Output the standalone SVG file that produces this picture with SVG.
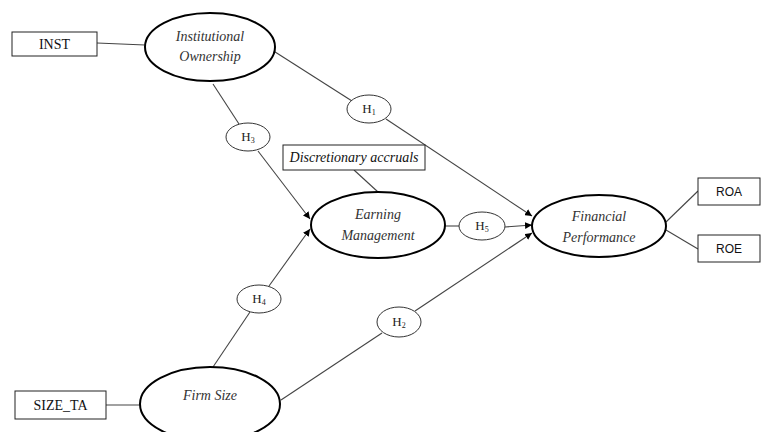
<svg xmlns="http://www.w3.org/2000/svg" width="762" height="432" viewBox="0 0 762 432">
<style>
.big{fill:#fff;stroke:#000;stroke-width:2}
.h{fill:#fff;stroke:#333;stroke-width:1}
.box{fill:#fff;stroke:#222;stroke-width:1}
.ln{stroke:#444;stroke-width:1.1;fill:none}
.lt{font-family:"Liberation Serif",serif;font-style:italic;font-size:14px;fill:#333;text-anchor:middle}
.st{font-family:"Liberation Serif","Times New Roman",serif;font-size:14px;fill:#111;text-anchor:middle}
.ss{font-family:"Liberation Sans",sans-serif;font-size:12px;fill:#111;text-anchor:middle}
.ht{font-family:"Liberation Serif",serif;font-size:13px;fill:#222;text-anchor:middle}
.sub{font-size:8px}
</style>
<defs>
<marker id="arr" viewBox="0 0 10 10" refX="10" refY="5" markerWidth="7" markerHeight="7" orient="auto" markerUnits="userSpaceOnUse">
<path d="M0,0 L10,5 L0,10 z" fill="#000"/>
</marker>
</defs>
<g id="connectors">
<line class="ln" x1="97" y1="43" x2="145" y2="45"/>
<line class="ln" x1="106" y1="405" x2="140" y2="405"/>
<line class="ln" x1="272" y1="50" x2="352" y2="101"/>
<line class="ln" x1="386" y1="119" x2="532" y2="216" marker-end="url(#arr)"/>
<line class="ln" x1="213" y1="84" x2="239" y2="124"/>
<line class="ln" x1="258" y1="151" x2="310" y2="219" marker-end="url(#arr)"/>
<line class="ln" x1="213" y1="367" x2="250" y2="312"/>
<line class="ln" x1="269" y1="286" x2="310" y2="229" marker-end="url(#arr)"/>
<line class="ln" x1="281" y1="400" x2="382" y2="333"/>
<line class="ln" x1="415" y1="311" x2="532" y2="233" marker-end="url(#arr)"/>
<line class="ln" x1="445" y1="226" x2="459" y2="226"/>
<line class="ln" x1="505" y1="227" x2="532" y2="225" marker-end="url(#arr)"/>
<line class="ln" x1="354" y1="170" x2="378" y2="192"/>
<line class="ln" x1="666" y1="222" x2="698" y2="191"/>
<line class="ln" x1="666" y1="230" x2="698" y2="249"/>
</g>
<g id="inst">
<rect class="box" x="12" y="32" width="85" height="24"/>
<text class="st" x="54.5" y="49">INST</text>
</g>
<g id="institutional-ownership">
<ellipse class="big" cx="210" cy="47" rx="65" ry="34"/>
<text class="lt" x="210" y="41">Institutional</text>
<text class="lt" x="210" y="61">Ownership</text>
</g>
<g id="h1">
<ellipse class="h" cx="369" cy="109" rx="22" ry="14"/>
<text class="ht" x="369" y="113">H<tspan class="sub" dy="2">1</tspan></text>
</g>
<g id="h3">
<ellipse class="h" cx="248" cy="137" rx="22" ry="14"/>
<text class="ht" x="248" y="141">H<tspan class="sub" dy="2">3</tspan></text>
</g>
<g id="discretionary-accruals">
<rect class="box" x="283" y="145" width="142" height="25"/>
<text class="lt" x="354" y="162" style="fill:#111">Discretionary accruals</text>
</g>
<g id="earning-management">
<ellipse class="big" cx="378" cy="225" rx="67" ry="33"/>
<text class="lt" x="378" y="219">Earning</text>
<text class="lt" x="378" y="240">Management</text>
</g>
<g id="h5">
<ellipse class="h" cx="482" cy="226" rx="23" ry="14"/>
<text class="ht" x="482" y="230">H<tspan class="sub" dy="2">5</tspan></text>
</g>
<g id="financial-performance">
<ellipse class="big" cx="599" cy="226" rx="67" ry="31"/>
<text class="lt" x="599" y="221">Financial</text>
<text class="lt" x="599" y="242">Performance</text>
</g>
<g id="roa">
<rect class="box" x="698" y="178" width="62" height="27"/>
<text class="ss" x="729" y="196">ROA</text>
</g>
<g id="roe">
<rect class="box" x="698" y="235" width="62" height="27"/>
<text class="ss" x="729" y="253">ROE</text>
</g>
<g id="h4">
<ellipse class="h" cx="259" cy="299" rx="22" ry="14"/>
<text class="ht" x="259" y="303">H<tspan class="sub" dy="2">4</tspan></text>
</g>
<g id="h2">
<ellipse class="h" cx="399" cy="322" rx="22" ry="15"/>
<text class="ht" x="399" y="326">H<tspan class="sub" dy="2">2</tspan></text>
</g>
<g id="size-ta">
<rect class="box" x="15" y="391" width="91" height="28"/>
<text class="st" x="60.5" y="410">SIZE_TA</text>
</g>
<g id="firm-size">
<ellipse class="big" cx="210" cy="404" rx="70" ry="37"/>
<text class="lt" x="210" y="400">Firm Size</text>
</g>
</svg>
